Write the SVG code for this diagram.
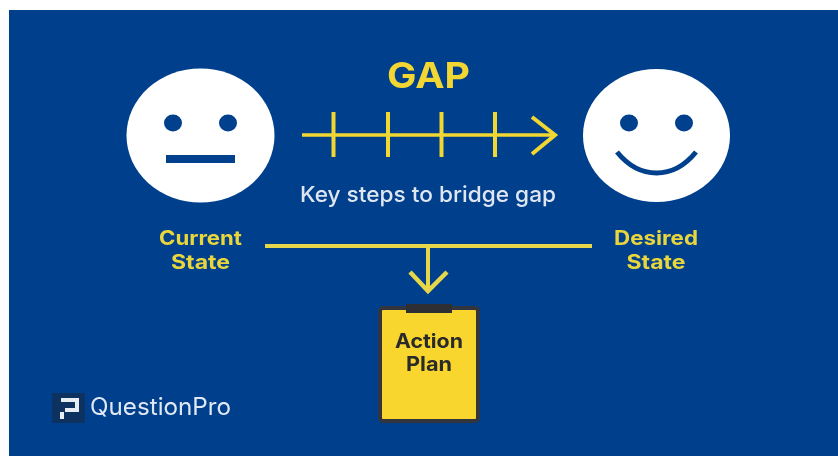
<svg xmlns="http://www.w3.org/2000/svg" width="838" height="456" viewBox="0 0 838 456">
<defs>
<style>
.y{fill:none;stroke:#f2d633;stroke-linecap:butt}
.t{font-family:Inter,"Liberation Sans",Arial,sans-serif;font-weight:700;text-anchor:middle}
.lab{font-size:20px;fill:#e9d63c}
.face{fill:#fff}
.ink{fill:#003f8c}
</style>
<filter id="soft" x="-5%" y="-5%" width="110%" height="110%"><feGaussianBlur stdDeviation="0.7"/></filter>
</defs>
<rect width="838" height="456" fill="#fff"/>
<rect x="9" y="10" width="829" height="446" fill="#003f8c"/>
<g id="current-state" filter="url(#soft)">
<ellipse class="face" cx="200.500" cy="135.500" rx="74" ry="67"/>
<ellipse class="ink" cx="173" cy="123" rx="9" ry="8.500"/>
<ellipse class="ink" cx="228" cy="123" rx="9" ry="8.500"/>
<rect class="ink" x="166" y="155" width="69" height="8"/>
<text class="t lab" x="200.500" y="245" textLength="83" lengthAdjust="spacingAndGlyphs">Current</text>
<text class="t lab" x="200.500" y="269" textLength="59" lengthAdjust="spacingAndGlyphs">State</text>
</g>
<g id="desired-state" filter="url(#soft)">
<ellipse class="face" cx="656.500" cy="135.500" rx="73.500" ry="66.500"/>
<ellipse class="ink" cx="629" cy="123" rx="9" ry="8.500"/>
<ellipse class="ink" cx="684" cy="123" rx="9" ry="8.500"/>
<path d="M617 152C630 168 643 173 656.500 173C670 173 683 168 696 152" fill="none" stroke="#003f8c" stroke-width="5"/>
<text class="t lab" x="656" y="245" textLength="84" lengthAdjust="spacingAndGlyphs">Desired</text>
<text class="t lab" x="656" y="269" textLength="59" lengthAdjust="spacingAndGlyphs">State</text>
</g>
<g id="gap-label" filter="url(#soft)">
<text class="t" x="428.500" y="88" font-size="36" fill="#f2d633" textLength="83" lengthAdjust="spacingAndGlyphs">GAP</text>
<text class="t" x="428" y="202" font-size="22" fill="#dfe6f0" style="font-weight:500" textLength="256" lengthAdjust="spacingAndGlyphs">Key steps to bridge gap</text>
</g>
<g id="connectors" filter="url(#soft)">
<path class="y" stroke-width="3.500" d="M302 135H554"/>
<path class="y" stroke-width="4" d="M333.500 112V157M388 112V157M441.500 112V157M495 112V157"/>
<path class="y" stroke-width="4" d="M532 117L555 135L532 154"/>
<path class="y" stroke-width="4" style="stroke:#e6d64a" d="M265 246H592"/>
<path class="y" stroke-width="4" style="stroke:#e6d64a" d="M428 246V290"/>
<path class="y" stroke-width="4.500" style="stroke:#e6d64a" d="M410 272L428 291L447 272"/>
</g>
<g id="action-plan" filter="url(#soft)">
<rect x="380" y="308" width="98" height="113" rx="3" fill="#f8d62f" stroke="#33363c" stroke-width="4"/>
<rect x="406" y="304" width="46" height="9" fill="#2d2f35"/>
<text class="t" x="429" y="348" font-size="20" fill="#2b2b2b" textLength="68" lengthAdjust="spacingAndGlyphs">Action</text>
<text class="t" x="429" y="371" font-size="20" fill="#2b2b2b" textLength="46" lengthAdjust="spacingAndGlyphs">Plan</text>
</g>
<g id="questionpro-logo" filter="url(#soft)">
<rect x="52" y="393" width="33" height="30" rx="2" fill="#10305f"/>
<path d="M61 400H77V410H65" fill="none" stroke="#e8edf3" stroke-width="4"/>
<path d="M62 412V419" fill="none" stroke="#e8edf3" stroke-width="4"/>
<text x="90" y="415" font-family="Inter,'Liberation Sans',Arial,sans-serif" font-size="24" textLength="141" lengthAdjust="spacingAndGlyphs" fill="#dfe8f3">QuestionPro</text>
</g>
</svg>
